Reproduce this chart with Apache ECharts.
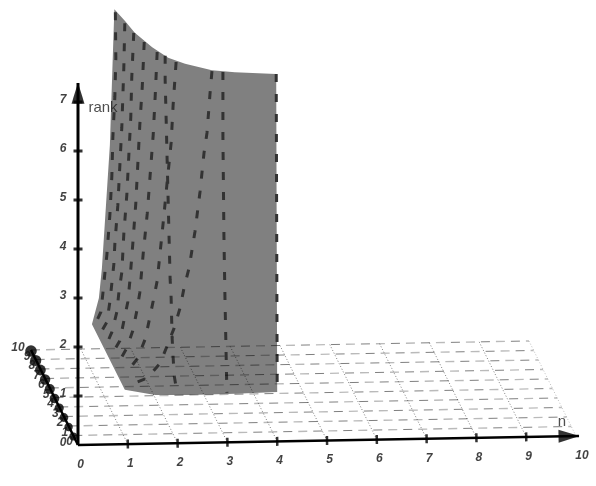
<!DOCTYPE html>
<html>
<head>
<meta charset="utf-8">
<style>html,body{margin:0;padding:0;background:#fff}#c{width:596px;height:486px}</style>
<script src="https://cdn.jsdelivr.net/npm/echarts@6/dist/echarts.min.js"></script>
</head>
<body>
<div id="c"></div>
<script>
// Tick labels of the three axes
const nTicks = [0,1,2,3,4,5,6,7,8,9,10];
const kTicks = [0,1,2,3,4,5,6,7,8,9,10];
const rankTicks = [0,1,2,3,4,5,6,7];
const nAxisEnd = 10.06;
const rankAxisEnd = 7.39;

// Surface outline, read as [n, rank] against the axes
const surfaceEdge = [[.73,8.88],[.94,8.64],[1.14,8.39],[1.49,8.09],[1.81,7.87],[2.15,7.74],[2.69,7.60],[3.15,7.55],[3.98,7.50],
  [4.00,1.01],[3.15,.99],[2.25,.98],[1.55,.99],[.94,1.11],[.28,2.46],[.42,2.99],[.48,3.60],[.64,6.11]];

// Dashed curves on the surface, each [n, rank], top to bottom
const curve1 = [[.75,8.82],[.76,7.88],[.74,7.09],[.70,6.27],[.68,5.48],[.64,4.68],[.58,3.87],[.54,3.50],[.50,3.09],[.46,2.71],[.32,2.40]];
const curve2 = [[.94,8.59],[.92,7.68],[.88,6.47],[.84,5.68],[.80,4.88],[.74,4.09],[.72,3.68],[.68,3.29],[.64,2.91],[.58,2.50],[.42,2.22]];
const curve3 = [[1.12,8.39],[1.08,7.49],[1.06,6.67],[1.02,5.88],[.98,5.08],[.92,4.29],[.88,3.51],[.82,3.09],[.78,2.70],[.68,2.29],[.56,2.01]];
const curve4 = [[1.33,8.20],[1.29,7.28],[1.24,6.49],[1.20,5.69],[1.16,4.90],[1.10,4.08],[1.04,3.31],[1.00,2.90],[.92,2.51],[.84,2.11],[.66,1.80]];
const curve5 = [[1.59,7.99],[1.55,7.09],[1.51,6.30],[1.45,5.50],[1.39,4.69],[1.31,3.89],[1.24,3.08],[1.18,2.71],[1.10,2.31],[.98,1.96],[.80,1.64]];
const curve6 = [[1.75,7.91],[1.75,7.42],[1.77,6.62],[1.79,5.78],[1.81,4.97],[1.83,4.15],[1.85,3.35],[1.87,2.97],[1.89,2.15],[1.91,1.76],[1.93,1.39],[1.99,1.02]];
const curve7 = [[1.97,7.78],[1.91,6.90],[1.87,6.13],[1.79,5.33],[1.71,4.50],[1.63,3.71],[1.59,3.32],[1.51,2.91],[1.43,2.52],[1.35,2.14],[1.20,1.75],[.98,1.47]];
const curve8 = [[2.69,7.58],[2.65,7.11],[2.59,6.32],[2.53,5.91],[2.45,5.12],[2.35,4.32],[2.23,3.57],[2.13,3.17],[2.05,2.76],[1.93,2.35],[1.79,1.99],[1.65,1.64],[1.39,1.34],[1.00,1.19]];
const curve9 = [[2.91,7.56],[2.91,6.25],[2.93,4.23],[2.95,3.01],[2.99,1.01]];
const curve10 = [[3.98,7.50],[4.00,1.01]];
const curves = [curve1,curve2,curve3,curve4,curve5,curve6,curve7,curve8,curve9,curve10];

// Oblique view: n runs right, k runs back, rank runs up
const K_X = -0.0944, K_Y = 0.1939, N_Y = 0.0184;
const project = (n, k, r) => [n + K_X * k, r + N_Y * n + K_Y * k];
const wall = p => project(p[0], 0, p[1]);
const lineSeries = (data, color, width, type, dashOffset) => ({
  type: 'line', data, showSymbol: false, symbol: 'none', silent: true, animation: false,
  lineStyle: { color, width, type, cap: 'butt', dashOffset: dashOffset || 0 }
});
const labelFont = { fontFamily: 'Liberation Sans', fontSize: 12, fontWeight: 'bold', fontStyle: 'italic', color: '#111' };
const labels = (data, offset, style) => ({
  type: 'scatter', data, symbolSize: 1, silent: true, animation: false,
  itemStyle: { color: 'transparent' },
  label: Object.assign({ show: true, position: 'inside', offset, formatter: p => p.value[2] }, style)
});
const withOffset = (value, offset) => ({ value, label: { offset } });

const series = [];
// surface
const surfacePts = surfaceEdge.map(wall);
series.push({
  type: 'custom', data: surfacePts, silent: true, animation: false, clip: false,
  renderItem: (params, api) => params.dataIndex === 0 ? {
    type: 'polygon',
    shape: { points: surfacePts.map(p => api.coord(p)) },
    style: { fill: '#808080', stroke: null }
  } : null
});
// dashed curves
curves.forEach(c => series.push(lineSeries(c.map(wall), '#333333', 3, [8, 12])));
// floor grid: lines of constant k
kTicks.slice(1).forEach(k => {
  const line = [project(0, k, 0), project(10, k, 0)];
  series.push(lineSeries(line, 'rgba(0,0,0,0.5)', 1, [9, 21]));
  series.push(lineSeries(line, 'rgba(0,0,0,0.27)', 1.4, [9, 21], 15));
});
// floor grid: lines of constant n
nTicks.slice(1).forEach(n => {
  const line = [project(n, 0, 0), project(n, 10, 0)];
  series.push(lineSeries(line, n === 10 ? 'rgba(0,0,0,0.25)' : 'rgba(0,0,0,0.5)', 1, [1, 2]));
});
// k axis with its dots
series.push(lineSeries([project(0,0,0), project(0,10,0)], '#000', 2.5, 'solid'));
series.push({
  type: 'scatter', silent: true, animation: false,
  data: kTicks.slice(1).map(k => project(0, k, 0)),
  symbol: 'circle',
  symbolSize: (v, p) => 8 + p.dataIndex * 0.4,
  symbolOffset: [0, 1],
  itemStyle: { color: '#000' }
});
// n axis and rank axis
series.push(lineSeries([project(0,0,0), project(nAxisEnd,0,0)], '#000', 2.5, 'solid'));
series.push(lineSeries([project(0,0,0), project(0,0,rankAxisEnd)], '#000', 3, 'solid'));
series.push({
  type: 'scatter', silent: true, animation: false,
  data: nTicks.slice(1,10).map(n => project(n, 0, 0)),
  symbol: 'rect', symbolSize: [2.5, 9], symbolRotate: 1, itemStyle: { color: '#000' }
});
series.push({
  type: 'scatter', silent: true, animation: false,
  data: rankTicks.slice(1).map(r => project(0, 0, r)),
  symbol: 'rect', symbolSize: [9, 3], itemStyle: { color: '#000' }
});
// arrow heads
series.push({
  type: 'scatter', silent: true, animation: false,
  data: [project(0, 0, rankAxisEnd - 0.21)],
  symbol: 'triangle', symbolSize: [13, 21], itemStyle: { color: '#000' }
});
series.push({
  type: 'scatter', silent: true, animation: false,
  data: [project(nAxisEnd - 0.2, 0, 0)],
  symbol: 'triangle', symbolSize: [13, 21], symbolRotate: -89, itemStyle: { color: '#000' }
});
// tick labels
series.push(labels(nTicks.map(n => {
  const v = [...project(n,0,0), String(n)];
  return n === 10 ? withOffset(v, [6, 20]) : withOffset(v, [2.5, 19.5]);
}), [2.5, 19.5], labelFont));
series.push(labels(kTicks.map(k => {
  const v = [...project(0,k,0), String(k)];
  return k === 10 ? withOffset(v, [-13, -2]) : withOffset(v, [-8.5, -3]);
}), [-8, -3], labelFont));
series.push(labels(rankTicks.map(r => [...project(0,0,r), String(r)]), [-15, -2], labelFont));
// axis titles
const titleFont = { fontFamily: 'Liberation Sans', fontSize: 15, color: '#222' };
series.push(labels([[...project(0,0,rankAxisEnd), 'rank']], [25, 25], titleFont));
series.push(labels([[...project(nAxisEnd,0,0), 'n']], [-17, -14], titleFont));

echarts.init(document.getElementById('c'), null, { renderer: 'canvas' }).setOption({
  animation: false,
  backgroundColor: '#fff',
  grid: { left: 0, right: 0, top: 0, bottom: 0 },
  xAxis: { type: 'value', min: -78/49.8, max: 518/49.8, show: false },
  yAxis: { type: 'value', min: -41/49, max: 445/49, show: false },
  series
});
</script>
</body>
</html>
